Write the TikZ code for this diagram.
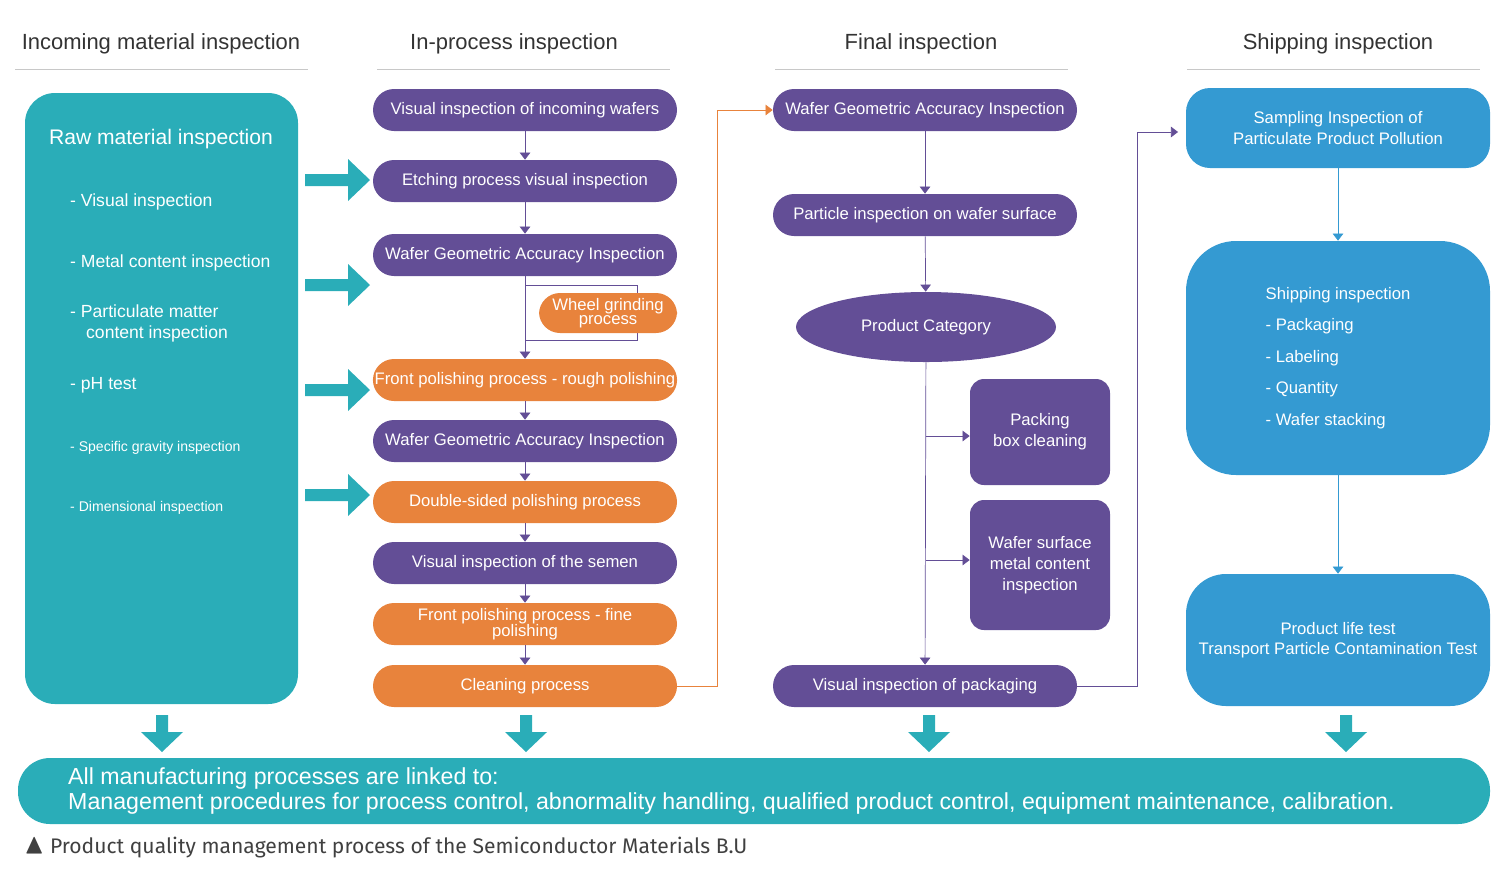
\documentclass[tikz,border=0pt]{standalone}
\usepackage{amssymb}
\usepackage{fontspec}
\setmainfont{Liberation Sans}
\newfontfamily\capfont{Fira Sans}
\usetikzlibrary{shapes.geometric,arrows.meta,positioning}
\definecolor{purp}{RGB}{99,78,150}
\definecolor{oran}{RGB}{232,131,60}
\definecolor{teal2}{RGB}{42,173,184}
\definecolor{blu}{RGB}{52,154,210}
\definecolor{hline}{RGB}{200,200,200}
\tikzset{
  box/.style={rounded corners=21*0.02cm,minimum width=304*0.02cm,minimum height=42*0.02cm,
    text=white,font=\fontsize{9.5}{10}\selectfont,align=center,inner sep=1pt},
  pbox/.style={box,fill=purp},
  obox/.style={box,fill=oran},
  bbox/.style={box,fill=blu,rounded corners=30*0.02cm},
  head/.style={font=\fontsize{12.5}{14}\selectfont,text=black!80},
  flow/.style={draw=purp,-{Triangle[width=6pt,length=4pt]}},
  oflow/.style={draw=oran,-{Triangle[width=6pt,length=4pt]}},
}
\begin{document}
\begin{tikzpicture}[x=0.02cm,y=-0.02cm]
\useasboundingbox (0,0) rectangle (1500,880);

% headers
\node[head] (h1) at (161,44) {Incoming material inspection};
\node[head] (h2) at (514,44) {In-process inspection};
\node[head] (h3) at (921,44) {Final inspection};
\node[head] (h4) at (1338,44) {Shipping inspection};
\foreach \a/\b in {15/308,377/670,775/1068,1187/1480}
  \draw[hline] (\a,69) -- (\b,69);

% incoming
\fill[teal2,rounded corners=30*0.02cm] (25,93) rectangle (298,704);
\node[text=white,font=\fontsize{12}{14}\selectfont] (raw) at (161,139) {Raw material inspection};
\begin{scope}[every node/.style={text=white,anchor=west,align=left,font=\fontsize{10}{12}\selectfont}]
\node (r1) at (64,202) {- Visual inspection};
\node (r2) at (64,263) {- Metal content inspection};
\node (r3) at (64,311) {- Particulate matter};
\node (r3b) at (80,334) {content inspection};
\node (r4) at (64,385) {- pH test};
\node[font=\fontsize{8}{10}\selectfont] (r5) at (64,448) {- Specific gravity inspection};
\node[font=\fontsize{8}{10}\selectfont] (r6) at (64,508) {- Dimensional inspection};
\end{scope}

% in-process
\node[pbox] (p1) at (525,110) {Visual inspection of incoming wafers};
\node[pbox] (p2) at (525,181) {Etching process visual inspection};
\node[pbox] (p3) at (525,255) {Wafer Geometric Accuracy Inspection};
\draw[purp] (525,285) -| (637,340) -- (525,340);
\node[obox,minimum width=138*0.02cm,minimum height=40*0.02cm,font=\fontsize{9.5}{8}\selectfont] (wg) at (608,313) {Wheel grinding\\process};
\node[obox] (p4) at (525,380) {Front polishing process - rough polishing};
\node[pbox] (p5) at (525,441) {Wafer Geometric Accuracy Inspection};
\node[obox] (p6) at (525,502) {Double-sided polishing process};
\node[pbox] (p7) at (525,563) {Visual inspection of the semen};
\node[obox,font=\fontsize{9.5}{9}\selectfont] (p8) at (525,624) {Front polishing process - fine\\polishing};
\node[obox] (p9) at (525,686) {Cleaning process};
\foreach \a/\b in {p1/p2,p2/p3,p3/p4,p4/p5,p5/p6,p6/p7,p7/p8,p8/p9}
  \draw[flow] (\a) -- (\b);

% final
\node[pbox] (f1) at (925,110) {Wafer Geometric Accuracy Inspection};
\node[pbox] (f2) at (925,215) {Particle inspection on wafer surface};
\node[ellipse,fill=purp,text=white,minimum width=260*0.02cm,minimum height=70*0.02cm,
  font=\fontsize{9.5}{10}\selectfont] (f3) at (926,327) {Product Category};
\node[pbox,minimum width=140*0.02cm,minimum height=106*0.02cm,rounded corners=14*0.02cm,font=\fontsize{9.5}{12}\selectfont] (f4) at (1040,432) {Packing\\box cleaning};
\node[pbox,minimum width=140*0.02cm,minimum height=130*0.02cm,rounded corners=14*0.02cm,font=\fontsize{9.5}{12}\selectfont] (f5) at (1040,565) {Wafer surface\\metal content\\inspection};
\node[pbox] (f6) at (925,686) {Visual inspection of packaging};
\draw[flow] (f1) -- (f2);
\draw[flow] (f2) -- (f3);
\draw[flow] (f3) -- (f6);
\coordinate (b1) at (926,436);
\coordinate (b2) at (926,560);
\draw[flow] (b1) -- (f4.west |- b1);
\draw[flow] (b2) -- (f5.west |- b2);
\draw[oflow] (p9.east) -- (717,686) |- (f1.west);

% shipping
\node[bbox,minimum height=80*0.02cm,rounded corners=24*0.02cm,font=\fontsize{9.5}{11.5}\selectfont] (s1) at (1338,128) {Sampling Inspection of\\Particulate Product Pollution};
\node[bbox,minimum height=234*0.02cm,rounded corners=50*0.02cm,align=left,font=\fontsize{9.5}{18}\selectfont] (s2) at (1338,358)
  {Shipping inspection\\- Packaging\\- Labeling\\- Quantity\\- Wafer stacking};
\node[bbox,minimum height=132*0.02cm,rounded corners=40*0.02cm,font=\fontsize{9.5}{11.5}\selectfont] (s3) at (1338,640) {Product life test\\Transport Particle Contamination Test};
\draw[blu,-{Triangle[width=6pt,length=4pt]}] (s1) -- (s2);
\draw[blu,-{Triangle[width=6pt,length=4pt]}] (s2) -- (s3);
\draw[flow] (f6.east) -- (1137,686) |- (1178,132);

% teal arrows
\foreach \y in {180,285,390,495}
  \fill[teal2] (305,\y-6) rectangle (348,\y+6) (348,\y-21) -- (370,\y) -- (348,\y+21) -- cycle;
\foreach \x in {162,526,929,1346}
  \fill[teal2] (\x-6,715) rectangle (\x+6,732) (\x-21,732) -- (\x,752) -- (\x+21,732) -- cycle;

% bottom bar
\fill[teal2,rounded corners=32*0.02cm] (18,758) rectangle (1490,824);
\node[text=white,anchor=west,align=left,font=\fontsize{13.2}{14.5}\selectfont] (all) at (62,791)
  {All manufacturing processes are linked to:\\Management procedures for process control, abnormality handling, qualified product control, equipment maintenance, calibration.};
\node[anchor=west,text=black!75,font=\capfont\fontsize{12}{14}\selectfont] (cap) at (18,848) {\fontsize{16}{14}\selectfont$\blacktriangle$\fontsize{12}{14}\selectfont\ Product quality management process of the Semiconductor Materials B.U};
\end{tikzpicture}
\end{document}
